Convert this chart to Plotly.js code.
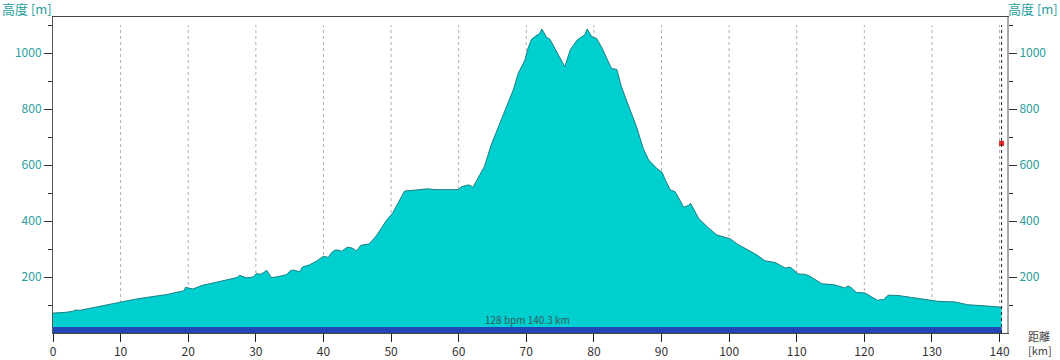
<!DOCTYPE html>
<html>
<head>
<meta charset="utf-8">
<script src="https://cdn.plot.ly/plotly-3.0.1.min.js"></script>
<style>html,body{margin:0;padding:0;background:#fff;}#chart{width:1060px;height:360px;}</style>
</head>
<body>
<div id="chart"></div>
<script>
// Distance along the route [km]
const distKm = [0,1,2,3,3.3,4,5,6,7,8,9,10,11,12,13,14,15,16,17,18,19,19.4,19.6,20.2,20.7,21.5,22.2,23,24,24.6,25.5,26.6,27.2,27.6,28,28.6,29.6,30.1,30.6,31.1,31.6,32.0,32.3,33.0,33.5,34.5,35.1,35.5,36.5,36.9,37.9,39,40,40.7,41.2,41.7,42.2,42.7,43.5,44.2,44.9,45.5,46.7,47.3,47.9,48.7,49.4,50.2,50.9,51.5,52.0,53.4,54.5,55.4,56.5,57.4,59.9,60.4,61.4,61.8,62.1,63.1,63.8,64.8,66.1,67.3,68.1,68.8,69.8,70.3,70.8,71.6,72.0,72.3,72.7,73.0,73.5,74.5,75.2,75.7,76.5,77.5,78.2,78.7,79.0,79.4,79.7,80.4,81.2,81.9,82.6,83.4,84.0,84.8,85.5,86.3,87.3,88.1,89.3,90.1,90.6,91.3,92.0,92.6,93.3,94.0,94.3,95.5,96.3,97.0,98.2,99.2,100.2,101.2,102.6,104.1,105.3,106.8,108.3,109.0,109.3,110.2,111.0,111.7,113.0,113.7,115.6,117.1,117.6,118.0,118.8,120.1,121.0,122.0,122.4,122.8,123.5,125.0,127.0,129.0,130.9,133.4,135.3,137.8,140.1,140.3];
// Elevation [m]
const elevM = [71,72,74,78,82,81,86,92,95,100,105,111,115,120,124,127,130,134,138,144,149,151,163,160,157,165,171,175,180,184,188,193,198,206,202,197,200,213,209,215,224,210,198,200,202,208,222,225,219,236,243,257,274,270,287,296,296,292,306,304,293,313,318,332,350,378,405,427,457,485,507,510,514,515,512,512,512,522,529,526,520,564,594,671,749,826,870,927,975,1020,1050,1064,1070,1086,1070,1056,1049,1005,975,951,1011,1046,1058,1066,1086,1072,1058,1052,1018,981,945,941,885,832,790,737,659,618,588,573,545,511,505,480,449,456,463,409,390,374,350,342,336,318,300,279,258,252,232,235,230,211,210,206,187,176,172,161,168,163,145,143,130,116,120,118,135,134,127,119,113,111,101,97,93,92];

// Heart-rate band and summary
const hrBandKm = [0, 140.3];
const hrBandM = [21, 21];
const summaryText = '128 bpm 140.3 km';
const totalKm = 140.3;

// Current-position marker
const markerKm = [140.3];
const markerM = [677];

// Tick labels
const xTicks = [0,10,20,30,40,50,60,70,80,90,100,110,120,130,140];
const yTicks = [200,400,600,800,1000];
const yMinorTicks = [100,300,500,700,900,1100];

const xRange = [0, 141.1];
const yRange = [0, 1128.6];

const numFont = 'Noto Sans CJK JP, Liberation Sans, sans-serif';
const teal = '#2a9d9d';

const traces = [
  {x: distKm, y: elevM, type: 'scatter', mode: 'lines', fill: 'tozeroy',
   fillcolor: '#00cfcf', line: {color: '#1a7f84', width: 1}, hoverinfo: 'x+y'},
  {x: hrBandKm, y: hrBandM, type: 'scatter', mode: 'lines', fill: 'tozeroy',
   fillcolor: '#2447b8', line: {color: '#2447b8', width: 0}, hoverinfo: 'skip'},
  {x: markerKm, y: markerM, type: 'scatter', mode: 'markers', yaxis: 'y2',
   marker: {symbol: 'square', size: 5, color: '#e02424', line: {width: 0}}}
];

const shapes = xTicks.filter(t => t > 0).map(t => ({
  type: 'line', xref: 'x', yref: 'y', x0: t, x1: t, y0: 0, y1: 1100,
  line: {color: '#b0b0b0', width: 1, dash: 'dot'}, layer: 'below'
}));
shapes.push({type: 'line', xref: 'x', yref: 'y', x0: totalKm, x1: totalKm, y0: 0, y1: 1100,
  line: {color: '#222222', width: 1, dash: 'dot'}, layer: 'above'});

const yAxisBase = {
  range: yRange, tickmode: 'array', tickvals: yTicks, ticks: 'outside', ticklen: 8,
  tickcolor: '#333', tickwidth: 1, showgrid: false, zeroline: false, showline: true,
  tickfont: {family: numFont, size: 12, color: teal}, fixedrange: true,
  minor: {tickmode: 'array', tickvals: yMinorTicks, ticks: 'outside', ticklen: 4, tickcolor: '#333', showgrid: false}
};

const layout = {
  width: 1060, height: 360,
  margin: {l: 53, r: 53, t: 17, b: 27},
  paper_bgcolor: '#ffffff', plot_bgcolor: '#ffffff',
  showlegend: false,
  xaxis: {
    range: xRange, tickmode: 'array', tickvals: xTicks, ticks: 'outside', ticklen: 8,
    tickcolor: '#222', showgrid: false, zeroline: false, showline: true, linecolor: '#444',
    linewidth: 1, mirror: true,
    tickfont: {family: numFont, size: 12, color: '#333'}, fixedrange: true
  },
  yaxis: Object.assign({}, yAxisBase, {side: 'left', linecolor: '#555', linewidth: 1}),
  yaxis2: Object.assign({}, yAxisBase, {side: 'right', overlaying: 'y', linecolor: '#aaaaaa', linewidth: 2}),
  shapes: shapes,
  annotations: [
    {text: '高度 [m]', xref: 'paper', yref: 'paper', x: -53/954, y: 1, xanchor: 'left', yanchor: 'bottom',
     yshift: -3, showarrow: false, font: {family: 'Noto Sans CJK JP', size: 13, color: teal}},
    {text: '高度 [m]', xref: 'paper', yref: 'paper', x: 1 + 53/954, y: 1, xanchor: 'right', yanchor: 'bottom',
     yshift: -3, showarrow: false, font: {family: 'Noto Sans CJK JP', size: 13, color: teal}},
    {text: '距離<br>[km]', xref: 'paper', yref: 'paper', x: 1 + 20/954, y: 0, xanchor: 'left', yanchor: 'bottom',
     yshift: -26, borderpad: 0, showarrow: false, align: 'left', font: {family: 'Noto Sans CJK JP', size: 11, color: '#444'}},
    {text: summaryText, xref: 'x', yref: 'y', x: totalKm / 2, y: hrBandM[0], xanchor: 'center', yanchor: 'bottom',
     yshift: -2, showarrow: false, font: {family: numFont, size: 10, color: '#3a5a5a'}}
  ]
};

Plotly.newPlot('chart', traces, layout, {displayModeBar: false, staticPlot: true});
</script>
</body>
</html>
